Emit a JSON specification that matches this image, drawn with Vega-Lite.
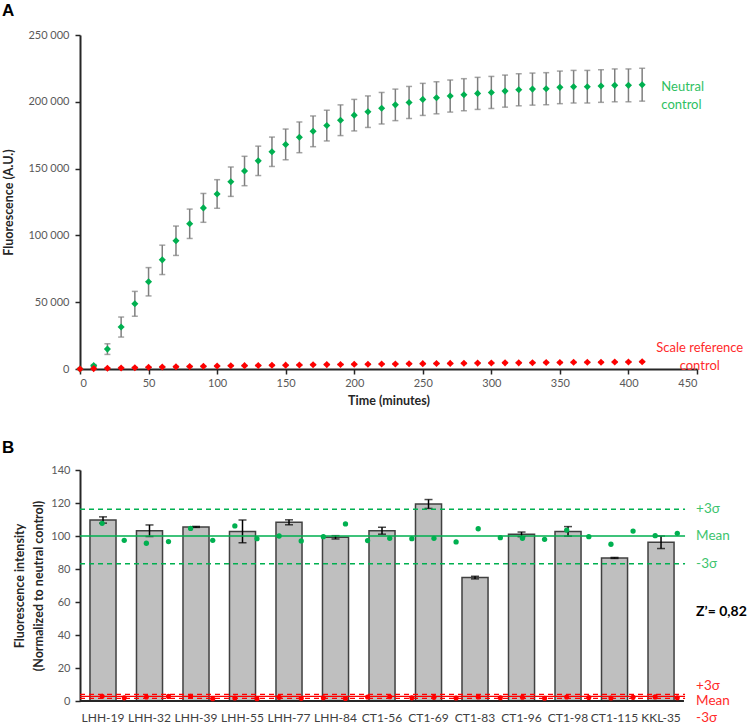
{
  "$schema": "https://vega.github.io/schema/vega-lite/v6.json",
  "padding": {"left": 2, "top": 2, "right": 0, "bottom": 0},
  "background": "white",
  "config": {
    "view": {"stroke": null},
    "font": "Lato",
    "axis": {"grid": false, "domainColor": "#262626", "domainWidth": 2, "tickColor": "#262626", "tickWidth": 1.5, "tickSize": 5, "labelColor": "#595959", "labelFont": "Lato", "labelFontSize": 11, "titleFont": "Lato", "titleFontSize": 12.5, "titleFontWeight": "bold", "titleColor": "#262626"}
  },
  "datasets": {
    "kinetics": [
      {"t":0,"series":"Neutral control","mean":0,"sd":300},
      {"t":10,"series":"Neutral control","mean":2500,"sd":800},
      {"t":20,"series":"Neutral control","mean":14900,"sd":4000},
      {"t":30,"series":"Neutral control","mean":31400,"sd":7500},
      {"t":40,"series":"Neutral control","mean":48800,"sd":9300},
      {"t":50,"series":"Neutral control","mean":65300,"sd":10600},
      {"t":60,"series":"Neutral control","mean":81700,"sd":11000},
      {"t":70,"series":"Neutral control","mean":96000,"sd":11000},
      {"t":80,"series":"Neutral control","mean":108700,"sd":11000},
      {"t":90,"series":"Neutral control","mean":120600,"sd":10800},
      {"t":100,"series":"Neutral control","mean":131000,"sd":10700},
      {"t":110,"series":"Neutral control","mean":140200,"sd":11000},
      {"t":120,"series":"Neutral control","mean":148200,"sd":11000},
      {"t":130,"series":"Neutral control","mean":155800,"sd":11000},
      {"t":140,"series":"Neutral control","mean":162600,"sd":11000},
      {"t":150,"series":"Neutral control","mean":168100,"sd":11500},
      {"t":160,"series":"Neutral control","mean":173400,"sd":11500},
      {"t":170,"series":"Neutral control","mean":177900,"sd":11500},
      {"t":180,"series":"Neutral control","mean":182200,"sd":11500},
      {"t":190,"series":"Neutral control","mean":186200,"sd":11500},
      {"t":200,"series":"Neutral control","mean":190000,"sd":11800},
      {"t":210,"series":"Neutral control","mean":192600,"sd":11800},
      {"t":220,"series":"Neutral control","mean":195200,"sd":11800},
      {"t":230,"series":"Neutral control","mean":197700,"sd":11800},
      {"t":240,"series":"Neutral control","mean":199500,"sd":12000},
      {"t":250,"series":"Neutral control","mean":201800,"sd":12000},
      {"t":260,"series":"Neutral control","mean":203000,"sd":12000},
      {"t":270,"series":"Neutral control","mean":204300,"sd":12000},
      {"t":280,"series":"Neutral control","mean":205300,"sd":12000},
      {"t":290,"series":"Neutral control","mean":206300,"sd":12000},
      {"t":300,"series":"Neutral control","mean":207000,"sd":12000},
      {"t":310,"series":"Neutral control","mean":208000,"sd":12000},
      {"t":320,"series":"Neutral control","mean":209000,"sd":12000},
      {"t":330,"series":"Neutral control","mean":209500,"sd":12000},
      {"t":340,"series":"Neutral control","mean":209800,"sd":12000},
      {"t":350,"series":"Neutral control","mean":210800,"sd":12200},
      {"t":360,"series":"Neutral control","mean":211300,"sd":12200},
      {"t":370,"series":"Neutral control","mean":211300,"sd":12200},
      {"t":380,"series":"Neutral control","mean":211800,"sd":12200},
      {"t":390,"series":"Neutral control","mean":212300,"sd":12300},
      {"t":400,"series":"Neutral control","mean":212300,"sd":12300},
      {"t":410,"series":"Neutral control","mean":212800,"sd":12300},
      {"t":0,"series":"Scale reference control","mean":0,"sd":300},
      {"t":10,"series":"Scale reference control","mean":300,"sd":300},
      {"t":20,"series":"Scale reference control","mean":600,"sd":300},
      {"t":30,"series":"Scale reference control","mean":800,"sd":300},
      {"t":40,"series":"Scale reference control","mean":1000,"sd":300},
      {"t":50,"series":"Scale reference control","mean":1300,"sd":300},
      {"t":60,"series":"Scale reference control","mean":1500,"sd":300},
      {"t":70,"series":"Scale reference control","mean":1700,"sd":300},
      {"t":80,"series":"Scale reference control","mean":1900,"sd":300},
      {"t":90,"series":"Scale reference control","mean":2000,"sd":300},
      {"t":100,"series":"Scale reference control","mean":2200,"sd":300},
      {"t":110,"series":"Scale reference control","mean":2400,"sd":300},
      {"t":120,"series":"Scale reference control","mean":2500,"sd":300},
      {"t":130,"series":"Scale reference control","mean":2600,"sd":300},
      {"t":140,"series":"Scale reference control","mean":2800,"sd":300},
      {"t":150,"series":"Scale reference control","mean":2900,"sd":300},
      {"t":160,"series":"Scale reference control","mean":3000,"sd":300},
      {"t":170,"series":"Scale reference control","mean":3200,"sd":300},
      {"t":180,"series":"Scale reference control","mean":3300,"sd":300},
      {"t":190,"series":"Scale reference control","mean":3400,"sd":300},
      {"t":200,"series":"Scale reference control","mean":3500,"sd":300},
      {"t":210,"series":"Scale reference control","mean":3600,"sd":300},
      {"t":220,"series":"Scale reference control","mean":3700,"sd":300},
      {"t":230,"series":"Scale reference control","mean":3800,"sd":300},
      {"t":240,"series":"Scale reference control","mean":3900,"sd":300},
      {"t":250,"series":"Scale reference control","mean":4000,"sd":300},
      {"t":260,"series":"Scale reference control","mean":4100,"sd":300},
      {"t":270,"series":"Scale reference control","mean":4200,"sd":300},
      {"t":280,"series":"Scale reference control","mean":4300,"sd":300},
      {"t":290,"series":"Scale reference control","mean":4400,"sd":300},
      {"t":300,"series":"Scale reference control","mean":4500,"sd":300},
      {"t":310,"series":"Scale reference control","mean":4600,"sd":300},
      {"t":320,"series":"Scale reference control","mean":4600,"sd":300},
      {"t":330,"series":"Scale reference control","mean":4700,"sd":300},
      {"t":340,"series":"Scale reference control","mean":4800,"sd":300},
      {"t":350,"series":"Scale reference control","mean":4900,"sd":300},
      {"t":360,"series":"Scale reference control","mean":5000,"sd":300},
      {"t":370,"series":"Scale reference control","mean":5000,"sd":300},
      {"t":380,"series":"Scale reference control","mean":5100,"sd":300},
      {"t":390,"series":"Scale reference control","mean":5200,"sd":300},
      {"t":400,"series":"Scale reference control","mean":5300,"sd":300},
      {"t":410,"series":"Scale reference control","mean":5400,"sd":300}
    ],
    "bars": [
      {"name":"LHH-19","value":109.7,"err":1.9},
      {"name":"LHH-32","value":103.2,"err":3.5},
      {"name":"LHH-39","value":105.5,"err":0.3},
      {"name":"LHH-55","value":102.8,"err":6.9},
      {"name":"LHH-77","value":108.3,"err":1.5},
      {"name":"LHH-84","value":99.2,"err":1.0},
      {"name":"CT1-56","value":103.2,"err":2.1},
      {"name":"CT1-69","value":119.4,"err":2.7},
      {"name":"CT1-83","value":74.8,"err":0.8},
      {"name":"CT1-96","value":101.0,"err":1.4},
      {"name":"CT1-98","value":102.8,"err":2.9},
      {"name":"CT1-115","value":86.7,"err":0.3},
      {"name":"KKL-35","value":96.2,"err":3.8}
    ],
    "wells": [
      {"well":1,"neutral":107.7,"reference":2.9},
      {"well":2,"neutral":97.4,"reference":1.9},
      {"well":3,"neutral":95.6,"reference":2.4},
      {"well":4,"neutral":96.6,"reference":2.8},
      {"well":5,"neutral":104.6,"reference":2.8},
      {"well":6,"neutral":97.4,"reference":1.4},
      {"well":7,"neutral":106.1,"reference":1.8},
      {"well":8,"neutral":98.4,"reference":1.4},
      {"well":9,"neutral":100.0,"reference":2.2},
      {"well":10,"neutral":97.0,"reference":1.6},
      {"well":11,"neutral":99.6,"reference":2.0},
      {"well":12,"neutral":107.3,"reference":1.5},
      {"well":13,"neutral":97.2,"reference":2.4},
      {"well":14,"neutral":98.6,"reference":2.6},
      {"well":15,"neutral":98.4,"reference":1.9},
      {"well":16,"neutral":98.6,"reference":2.2},
      {"well":17,"neutral":96.4,"reference":1.8},
      {"well":18,"neutral":104.4,"reference":2.5},
      {"well":19,"neutral":99.0,"reference":2.0},
      {"well":20,"neutral":98.6,"reference":2.3},
      {"well":21,"neutral":98.0,"reference":1.7},
      {"well":22,"neutral":103.6,"reference":2.4},
      {"well":23,"neutral":99.6,"reference":2.1},
      {"well":24,"neutral":95.0,"reference":1.8},
      {"well":25,"neutral":103.0,"reference":2.2},
      {"well":26,"neutral":100.2,"reference":2.5},
      {"well":27,"neutral":101.6,"reference":2.0}
    ],
    "sigma": [
      {"group":"neutral","stat":"+3σ","value":116.2},
      {"group":"neutral","stat":"Mean","value":100.0},
      {"group":"neutral","stat":"-3σ","value":83.2},
      {"group":"reference","stat":"+3σ","value":4.0},
      {"group":"reference","stat":"Mean","value":2.8},
      {"group":"reference","stat":"-3σ","value":1.6}
    ]
  },
  "vconcat": [
    {
      "width": 617,
      "height": 334,
      "title": {"text": "A", "anchor": "start", "frame": "group", "dx": -78, "offset": 9, "fontSize": 17, "fontWeight": "bold", "font": "Liberation Sans", "color": "black"},
      "layer": [
        {
          "data": {"name": "kinetics"},
          "mark": {"type": "errorbar", "ticks": {"size": 6}, "color": "#7f7f7f", "thickness": 1.5},
          "encoding": {
            "x": {"field": "t", "type": "quantitative", "scale": {"domain": [0, 450], "range": [0, 617], "nice": false, "padding": 0}, "axis": {"values": [0,50,100,150,200,250,300,350,400,450], "title": "Time (minutes)", "labelPadding": 3, "titlePadding": 6}},
            "y": {"field": "mean", "type": "quantitative", "scale": {"domain": [0, 250000], "nice": false}, "axis": {"values": [0,50000,100000,150000,200000,250000], "labelExpr": "replace(format(datum.value, ','), ',', ' ')", "title": "Fluorescence (A.U.)", "labelPadding": 6, "titlePadding": 12}},
            "yError": {"field": "sd"},
            "detail": {"field": "series"}
          }
        },
        {
          "data": {"name": "kinetics"},
          "mark": {"type": "point", "filled": true, "shape": "diamond", "size": 50, "opacity": 1},
          "encoding": {
            "x": {"field": "t", "type": "quantitative"},
            "y": {"field": "mean", "type": "quantitative"},
            "color": {"field": "series", "type": "nominal", "scale": {"domain": ["Neutral control", "Scale reference control"], "range": ["#00b050", "#ff0000"]}, "legend": null}
          }
        },
        {
          "data": {"values": [{"label": "Neutral\ncontrol", "t": 424, "y": 211000}]},
          "mark": {"type": "text", "lineBreak": "\n", "fontSize": 13, "lineHeight": 18, "baseline": "middle", "align": "left", "font": "Lato", "color": "#2fbf62"},
          "encoding": {
            "x": {"field": "t", "type": "quantitative"},
            "y": {"field": "y", "type": "quantitative"},
            "text": {"field": "label"}
          }
        },
        {
          "data": {"values": [{"label": "Scale reference\ncontrol", "t": 452, "y": 15700}]},
          "mark": {"type": "text", "lineBreak": "\n", "fontSize": 13, "lineHeight": 18, "baseline": "middle", "align": "center", "font": "Lato", "color": "#ff2a2a"},
          "encoding": {
            "x": {"field": "t", "type": "quantitative"},
            "y": {"field": "y", "type": "quantitative"},
            "text": {"field": "label"}
          }
        }
      ]
    },
    {
      "width": 617,
      "height": 231,
      "title": {"text": "B", "anchor": "start", "frame": "group", "dx": -78, "offset": 7, "fontSize": 17, "fontWeight": "bold", "font": "Liberation Sans", "color": "black"},
      "layer": [
        {
          "data": {"name": "bars"},
          "encoding": {
            "x": {"field": "name", "type": "nominal", "sort": null, "scale": {"paddingInner": 0.44, "paddingOuter": 0.354, "align": 0.303}, "axis": {"title": null, "ticks": false, "domain": false, "labelPadding": 11, "labelAngle": 0, "labelColor": "#404040", "labelFontSize": 12}},
            "y": {"field": "value", "type": "quantitative", "scale": {"domain": [0, 140], "nice": false}, "axis": {"values": [0,20,40,60,80,100,120,140], "title": ["Fluorescence intensity", "(Normalized  to neutral control)"], "titleLineHeight": 19, "labelPadding": 5, "titlePadding": 5}}
          },
          "layer": [
            {
              "mark": {"type": "bar", "fill": "#bfbfbf", "stroke": "#404040", "strokeWidth": 1.5}
            },
            {
              "mark": {"type": "errorbar", "ticks": {"size": 8}, "color": "black", "thickness": 1.5},
              "encoding": {
                "yError": {"field": "err"}
              }
            }
          ]
        },
        {
          "layer": [
            {
              "data": {"name": "sigma"},
              "mark": {"type": "rule", "strokeWidth": 1.4},
              "encoding": {
                "x": {"datum": 0, "type": "quantitative", "scale": {"domain": [0, 27.89], "nice": false, "zero": false}, "axis": null},
                "x2": {"datum": 27.35},
                "y": {"field": "value", "type": "quantitative", "axis": null},
                "color": {"field": "group", "type": "nominal", "scale": {"domain": ["neutral", "reference"], "range": ["#2fc466", "#ff6a6a"]}, "legend": null},
                "strokeDash": {"field": "stat", "type": "nominal", "scale": {"domain": ["+3σ", "Mean", "-3σ"], "range": [[5, 4], [1, 0], [5, 4]]}, "legend": null}
              }
            },
            {
              "data": {"values": [{"base": 0}]},
              "mark": {"type": "rule", "strokeWidth": 2, "color": "#262626"},
              "encoding": {
                "x": {"datum": 0, "type": "quantitative", "scale": {"domain": [0, 27.89], "nice": false, "zero": false}, "axis": null},
                "x2": {"datum": 27.3},
                "y": {"field": "base", "type": "quantitative", "axis": null}
              }
            },
            {
              "data": {"name": "wells"},
              "mark": {"type": "circle", "size": 28, "opacity": 1, "color": "#00b050"},
              "encoding": {
                "x": {"field": "well", "type": "quantitative", "scale": {"domain": [0, 27.89], "nice": false, "zero": false}, "axis": null},
                "y": {"field": "neutral", "type": "quantitative", "axis": null}
              }
            },
            {
              "data": {"name": "wells"},
              "mark": {"type": "circle", "size": 26, "opacity": 1, "color": "#ff0000"},
              "encoding": {
                "x": {"field": "well", "type": "quantitative", "scale": {"domain": [0, 27.89], "nice": false, "zero": false}, "axis": null},
                "y": {"field": "reference", "type": "quantitative", "axis": null}
              }
            },
            {
              "data": {"name": "sigma"},
              "transform": [{"filter": "datum.group === 'neutral'"}],
              "mark": {"type": "text", "align": "left", "baseline": "middle", "fontSize": 13.5, "color": "#3cc46e", "font": "Lato"},
              "encoding": {
                "x": {"datum": 27.85, "type": "quantitative", "scale": {"domain": [0, 27.89], "nice": false, "zero": false}, "axis": null},
                "y": {"field": "value", "type": "quantitative", "axis": null},
                "text": {"field": "stat"}
              }
            },
            {
              "data": {"values": [{"label": "Z’= 0,82"}]},
              "mark": {"type": "text", "align": "left", "baseline": "middle", "fontSize": 14, "fontWeight": "bold", "color": "black", "font": "Lato"},
              "encoding": {
                "x": {"datum": 27.85, "type": "quantitative", "scale": {"domain": [0, 27.89], "nice": false, "zero": false}, "axis": null},
                "y": {"datum": 53.8, "type": "quantitative", "axis": null},
                "text": {"field": "label"}
              }
            },
            {
              "data": {"values": [{"label": "+3σ"}]},
              "mark": {"type": "text", "align": "left", "baseline": "middle", "fontSize": 13.5, "color": "#ff2a2a", "font": "Lato", "dy": -8.7},
              "encoding": {
                "x": {"datum": 27.85, "type": "quantitative", "scale": {"domain": [0, 27.89], "nice": false, "zero": false}, "axis": null},
                "y": {"datum": 4.0, "type": "quantitative", "axis": null},
                "text": {"field": "label"}
              }
            },
            {
              "data": {"values": [{"label": "Mean"}]},
              "mark": {"type": "text", "align": "left", "baseline": "middle", "fontSize": 13.5, "color": "#ff2a2a", "font": "Lato", "dy": 4.5},
              "encoding": {
                "x": {"datum": 27.85, "type": "quantitative", "scale": {"domain": [0, 27.89], "nice": false, "zero": false}, "axis": null},
                "y": {"datum": 2.8, "type": "quantitative", "axis": null},
                "text": {"field": "label"}
              }
            },
            {
              "data": {"values": [{"label": "-3σ"}]},
              "mark": {"type": "text", "align": "left", "baseline": "middle", "fontSize": 13.5, "color": "#ff2a2a", "font": "Lato", "dy": 20},
              "encoding": {
                "x": {"datum": 27.85, "type": "quantitative", "scale": {"domain": [0, 27.89], "nice": false, "zero": false}, "axis": null},
                "y": {"datum": 1.6, "type": "quantitative", "axis": null},
                "text": {"field": "label"}
              }
            }
          ]
        }
      ],
      "resolve": {"scale": {"x": "independent"}, "axis": {"y": "independent"}}
    }
  ],
  "resolve": {"scale": {"x": "independent", "y": "independent"}},
  "spacing": 101,
  "bounds": "flush"
}
